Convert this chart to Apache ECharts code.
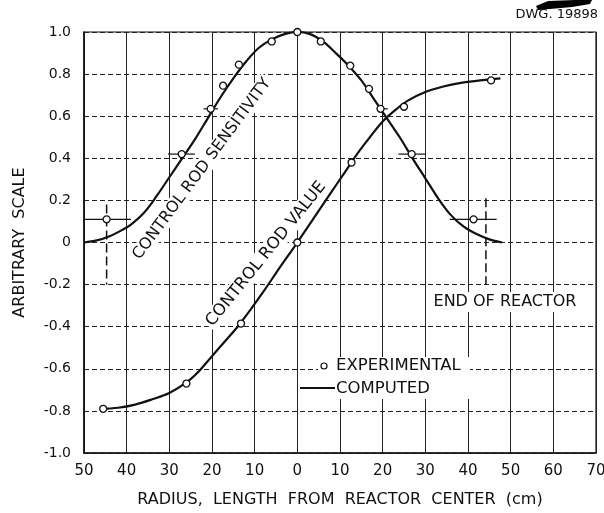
<!DOCTYPE html>
<html>
<head>
<meta charset="utf-8">
<script src="https://cdn.jsdelivr.net/npm/echarts@6/dist/echarts.min.js"></script>
<style>
  html, body { margin: 0; padding: 0; background: #fff; }
  #chart { width: 604px; height: 513px; }
</style>
</head>
<body>
<div id="chart"></div>
<script>
// Radius axis runs from 50 cm on one side of the center to 70 cm on the other.
const xTickValues = [-50, -40, -30, -20, -10, 0, 10, 20, 30, 40, 50, 60, 70];
const xTickLabels = ['50', '40', '30', '20', '10', '0', '10', '20', '30', '40', '50', '60', '70'];
const yTickValues = [1.0, 0.8, 0.6, 0.4, 0.2, 0, -0.2, -0.4, -0.6, -0.8, -1.0];
const yTickLabels = ['1.0', '0.8', '0.6', '0.4', '0.2', '0', '-0.2', '-0.4', '-0.6', '-0.8', '-1.0'];

// Computed control rod sensitivity
const sensComputed = [
  [-50, 0.0], [-47, 0.01], [-44, 0.03], [-41, 0.06], [-39, 0.085], [-36, 0.14],
  [-33, 0.22], [-30, 0.31], [-27, 0.40], [-24, 0.49], [-21, 0.59], [-18, 0.69],
  [-15, 0.78], [-12, 0.86], [-9, 0.925], [-6, 0.965], [-3, 0.99], [0, 1.0],
  [3, 0.99], [6, 0.955], [9, 0.90], [12, 0.84], [15, 0.77], [18, 0.68],
  [21, 0.59], [24, 0.50], [27, 0.40], [30, 0.305], [33, 0.21], [36, 0.13],
  [39, 0.075], [42, 0.04], [45, 0.015], [48, 0.0]
];
// Measured control rod sensitivity
const sensExperimental = [
  [-44.7, 0.11], [-27.1, 0.42], [-20.3, 0.635], [-17.4, 0.745], [-13.7, 0.845],
  [-6.0, 0.955], [0, 1.0], [5.5, 0.955], [12.4, 0.84], [16.8, 0.73],
  [19.5, 0.635], [26.8, 0.42], [41.3, 0.11]
];
// Horizontal spread on some sensitivity measurements: [from, to, value]
const sensSpread = [
  [-50, -39, 0.11], [-30.3, -24.0, 0.42], [-22.0, -18.6, 0.635],
  [18.6, 21.2, 0.635], [23.7, 30.1, 0.42], [35.7, 46.7, 0.11]
];
// Computed control rod value
const valueComputed = [
  [-46.3, -0.79], [-42, -0.785], [-38, -0.77], [-34, -0.745], [-30, -0.715],
  [-26, -0.665], [-23, -0.61], [-20, -0.54], [-17, -0.47], [-14, -0.40],
  [-11, -0.32], [-8, -0.235], [-5, -0.145], [-2, -0.058], [0, 0.0],
  [2, 0.06], [5, 0.15], [8, 0.24], [11, 0.33], [14, 0.42], [17, 0.50],
  [20, 0.575], [23, 0.63], [26, 0.675], [30, 0.715], [34, 0.74],
  [38, 0.757], [42, 0.768], [45.4, 0.775], [47.6, 0.78]
];
// Measured control rod value
const valueExperimental = [
  [-45.5, -0.79], [-26.0, -0.67], [-13.2, -0.385], [0, 0.0],
  [12.7, 0.38], [25.0, 0.645], [45.4, 0.77]
];
// Reactor boundary markers: [radius, top, bottom]
const reactorEnds = [[-44.7, 0.18, -0.2], [44.2, 0.21, -0.2]];

const FONT = 'DejaVu Sans';
const INK = '#111';

const chart = echarts.init(document.getElementById('chart'), null, { renderer: 'canvas' });

function horizontalBars(params, api) {
  const a = api.coord([api.value(0), api.value(2)]);
  const b = api.coord([api.value(1), api.value(2)]);
  return {
    type: 'line',
    shape: { x1: a[0], y1: a[1], x2: b[0], y2: b[1] },
    style: { stroke: INK, lineWidth: 1.2 }
  };
}
function verticalMarkers(params, api) {
  const a = api.coord([api.value(0), api.value(1)]);
  const b = api.coord([api.value(0), api.value(2)]);
  return {
    type: 'line',
    shape: { x1: a[0], y1: a[1], x2: b[0], y2: b[1] },
    style: { stroke: INK, lineWidth: 1.5, lineDash: [9, 4] }
  };
}

const deg = Math.PI / 180;
const openCircle = { color: '#fff', borderColor: INK, borderWidth: 1.3, opacity: 1 };

chart.setOption({
  backgroundColor: '#fff',
  animation: false,
  grid: {
    left: 84, right: 8, top: 32, bottom: 60, containLabel: false, outerBoundsMode: 'none',
    show: true, borderColor: INK, borderWidth: 1.2
  },
  xAxis: {
    type: 'value', min: -50, max: 70, interval: 10,
    axisLine: { show: true, onZero: false, lineStyle: { color: INK, width: 1.5 } },
    axisTick: { show: false },
    splitLine: { show: true, lineStyle: { color: '#222', width: 1 } },
    axisLabel: {
      color: INK, fontFamily: FONT, fontSize: 15, margin: 11,
      formatter: v => xTickLabels[xTickValues.indexOf(v)]
    },
    name: 'RADIUS,  LENGTH  FROM  REACTOR  CENTER  (cm)',
    nameLocation: 'middle', nameGap: 39,
    nameTextStyle: { color: INK, fontFamily: FONT, fontSize: 16 }
  },
  yAxis: {
    type: 'value', min: -1, max: 1, interval: 0.2,
    axisLine: { show: true, onZero: false, lineStyle: { color: INK, width: 1.5 } },
    axisTick: { show: false },
    splitLine: { show: true, lineStyle: { color: '#222', width: 1, type: [5, 3] } },
    axisLabel: {
      color: INK, fontFamily: FONT, fontSize: 14, margin: 13,
      formatter: v => {
        const i = yTickValues.findIndex(t => Math.abs(t - v) < 1e-6);
        return i >= 0 ? yTickLabels[i] : '';
      }
    },
    name: 'ARBITRARY  SCALE',
    nameLocation: 'middle', nameGap: 56,
    nameTextStyle: { color: INK, fontFamily: FONT, fontSize: 16 }
  },
  series: [
    {
      name: 'sensitivity computed', type: 'line', data: sensComputed,
      smooth: 0.35, symbol: 'none', z: 3,
      lineStyle: { color: INK, width: 2.2 }
    },
    {
      name: 'value computed', type: 'line', data: valueComputed,
      smooth: 0.35, symbol: 'none', z: 3,
      lineStyle: { color: INK, width: 2.2 }
    },
    {
      name: 'sensitivity spread', type: 'custom', data: sensSpread,
      renderItem: horizontalBars, z: 4, silent: true
    },
    {
      name: 'reactor ends', type: 'custom', data: reactorEnds,
      renderItem: verticalMarkers, z: 4, silent: true
    },
    {
      name: 'sensitivity experimental', type: 'scatter', data: sensExperimental,
      symbol: 'circle', symbolSize: 7, z: 5, itemStyle: openCircle
    },
    {
      name: 'value experimental', type: 'scatter', data: valueExperimental,
      symbol: 'circle', symbolSize: 7, z: 5, itemStyle: openCircle
    }
  ],
  graphic: [
    // drawing number and ink mark at the top right
    {
      type: 'polygon', z: 10,
      shape: { points: [[536, 6], [548, 1], [575, 0], [592, 0], [590, 4], [572, 7], [550, 9], [538, 10]] },
      style: { fill: '#000' }
    },
    {
      type: 'text', x: 598, y: 15, z: 10,
      style: { text: 'DWG. 19898', fill: INK, font: '13px "DejaVu Sans"', align: 'right', verticalAlign: 'middle' }
    },
    // curve captions
    {
      type: 'text', x: 202, y: 169, rotation: 53.5 * deg, z: 6,
      style: {
        text: 'CONTROL ROD SENSITIVITY', fill: INK, font: '16px "DejaVu Sans"',
        align: 'center', verticalAlign: 'middle', backgroundColor: '#fff', padding: [1, 2]
      }
    },
    {
      type: 'text', x: 266, y: 254, rotation: 51 * deg, z: 6,
      style: {
        text: 'CONTROL ROD VALUE', fill: INK, font: '16.5px "DejaVu Sans"',
        align: 'center', verticalAlign: 'middle', backgroundColor: '#fff', padding: [1, 2]
      }
    },
    {
      type: 'text', x: 505, y: 302, z: 6,
      style: {
        text: 'END OF REACTOR', fill: INK, font: '16px "DejaVu Sans"',
        align: 'center', verticalAlign: 'middle', backgroundColor: '#fff', padding: [2, 3]
      }
    },
    // key
    {
      type: 'rect', z: 6, shape: { x: 318, y: 357, width: 152, height: 42 },
      style: { fill: '#fff' }
    },
    {
      type: 'circle', z: 7, shape: { cx: 324, cy: 366, r: 3 },
      style: { fill: '#fff', stroke: INK, lineWidth: 1.2 }
    },
    {
      type: 'text', x: 336, y: 366, z: 7,
      style: { text: 'EXPERIMENTAL', fill: INK, font: '16.5px "DejaVu Sans"', verticalAlign: 'middle' }
    },
    {
      type: 'line', z: 7, shape: { x1: 300, y1: 388, x2: 335, y2: 388 },
      style: { stroke: INK, lineWidth: 2 }
    },
    {
      type: 'text', x: 336, y: 389, z: 7,
      style: { text: 'COMPUTED', fill: INK, font: '16.5px "DejaVu Sans"', verticalAlign: 'middle' }
    }
  ]
});
</script>
</body>
</html>
